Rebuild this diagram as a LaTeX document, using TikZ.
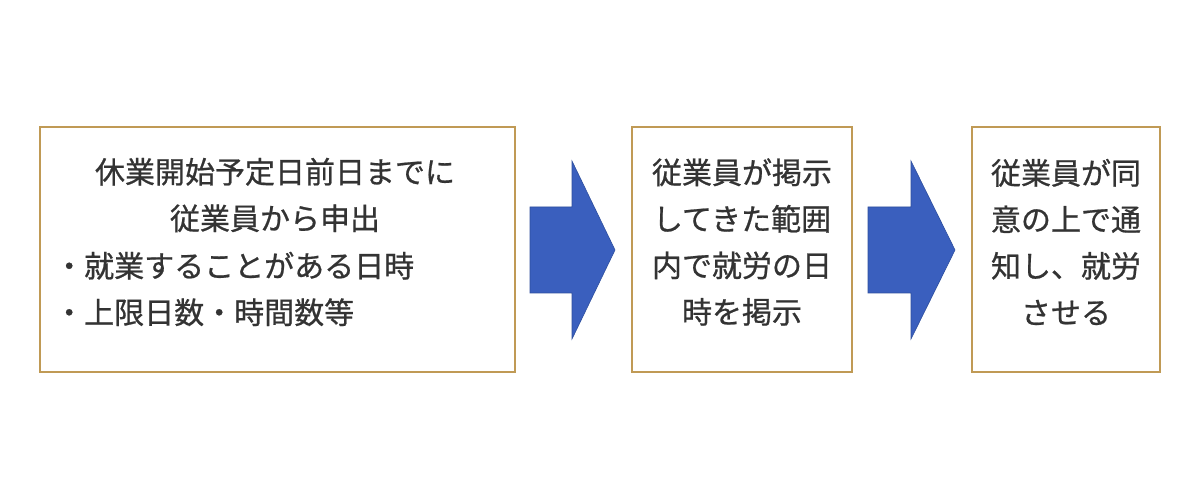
\documentclass[tikz,border=0pt]{standalone}
\usepackage{fontspec}
\setmainfont{Noto Sans CJK JP}[FakeBold=0.7]
\begin{document}
\begin{tikzpicture}[x=1pt,y=-1pt,
  frame/.style={draw=boxgold,line width=1.6pt,fill=white,inner sep=0pt},
  txt/.style={text=txtgray,font=\fontsize{30}{46.5}\selectfont,inner sep=0pt},
  barrow/.style={fill=arrowblue,draw=arrowedge,line width=0.6pt}]
\definecolor{boxgold}{HTML}{C09A55}
\definecolor{txtgray}{HTML}{333333}
\definecolor{arrowblue}{HTML}{3A5FBE}
\definecolor{arrowedge}{HTML}{2E4F9E}
\useasboundingbox (0,0) rectangle (1200,502);
\fill[white] (0,0) rectangle (1200,502);
% boxes
\node[frame,minimum width=475pt,minimum height=245pt] (b1) at (277.5,249.5) {};
\node[frame,minimum width=220pt,minimum height=245pt] (b2) at (742,249.5) {};
\node[frame,minimum width=188pt,minimum height=245pt] (b3) at (1066,249.5) {};
% texts
\node[txt,align=center] (t1a) at (275,195) {休業開始予定日前日までに\\従業員から申出};
\node[txt,align=left,anchor=west] (t1b) at (54,289) {・就業することがある日時\\・上限日数・時間数等};
\node[txt,align=center] (t2) at (742,242) {従業員が掲示\\してきた範囲\\内で就労の日\\時を掲示};
\node[txt,align=center] (t3) at (1066,242) {従業員が同\\意の上で通\\知し、就労\\させる};
% block arrows
\draw[barrow] (530,207) -- (572,207) -- (572,161) -- (615,250) -- (572,339) -- (572,293) -- (530,293) -- cycle;
\draw[barrow] (868,207) -- (911,207) -- (911,161) -- (955,250) -- (911,339) -- (911,293) -- (868,293) -- cycle;
\end{tikzpicture}
\end{document}
